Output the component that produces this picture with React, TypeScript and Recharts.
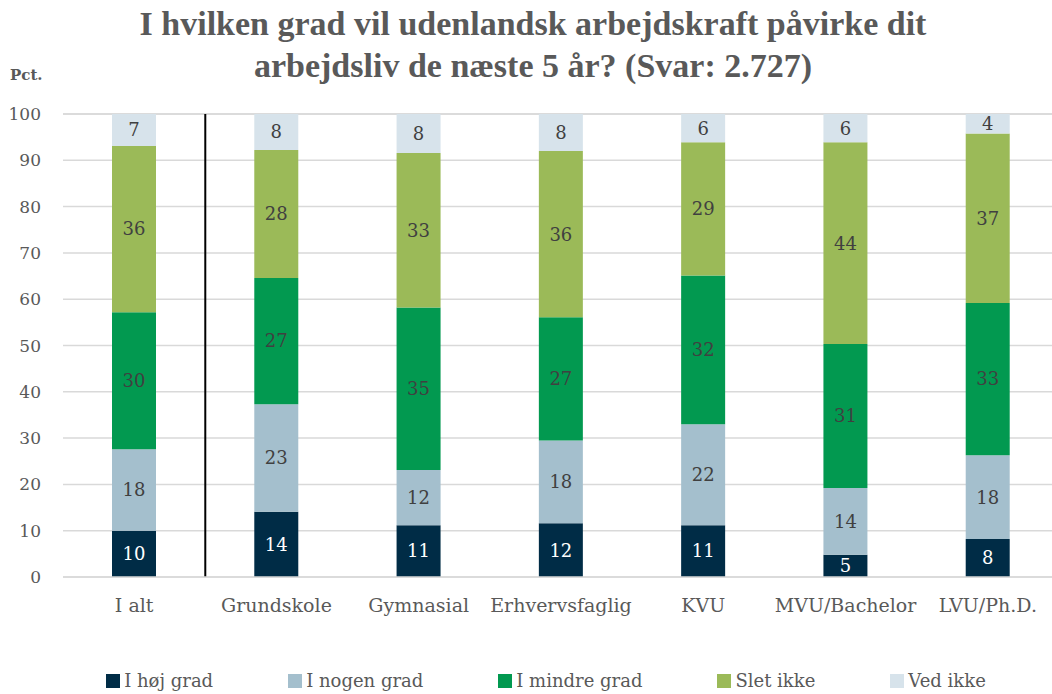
import React from "react";
import {
  BarChart,
  Bar,
  XAxis,
  YAxis,
  CartesianGrid,
  ReferenceLine,
  LabelList,
} from "recharts";

// Survey answers by education level (pct.)
const CATEGORIES = [
  "I alt",
  "Grundskole",
  "Gymnasial",
  "Erhvervsfaglig",
  "KVU",
  "MVU/Bachelor",
  "LVU/Ph.D.",
];

const HOEJ_GRAD = [10.0, 14.1, 11.2, 11.6, 11.2, 4.8, 8.2];
const NOGEN_GRAD = [17.6, 23.2, 11.9, 17.9, 21.8, 14.4, 18.1];
const MINDRE_GRAD = [29.6, 27.3, 35.1, 26.6, 32.1, 31.1, 32.9];
const SLET_IKKE = [35.9, 27.6, 33.4, 35.9, 28.8, 43.6, 36.6];
const VED_IKKE = [6.9, 7.8, 8.4, 8.0, 6.1, 6.1, 4.2];

const Y_TICKS = [0, 10, 20, 30, 40, 50, 60, 70, 80, 90, 100];

const SERIES = [
  { key: "hoej", name: "I høj grad", values: HOEJ_GRAD, color: "#002c46", label: "#ffffff" },
  { key: "nogen", name: "I nogen grad", values: NOGEN_GRAD, color: "#a4bfcd", label: "#404040" },
  { key: "mindre", name: "I mindre grad", values: MINDRE_GRAD, color: "#029950", label: "#404040" },
  { key: "slet", name: "Slet ikke", values: SLET_IKKE, color: "#9bba58", label: "#404040" },
  { key: "ved", name: "Ved ikke", values: VED_IKKE, color: "#d7e3eb", label: "#404040" },
];

const data = CATEGORIES.map((cat, i) => {
  const row: Record<string, string | number> = { name: cat };
  SERIES.forEach((s) => {
    row[s.key] = s.values[i];
  });
  return row;
});

const SERIF = "'DejaVu Serif', serif";
const TEXT_GRAY = "#595959";

export default function App() {
  return (
    <div
      style={{
        position: "absolute",
        left: 0,
        top: 0,
        width: 1052,
        height: 694,
        overflow: "hidden",
        background: "#fff",
      }}
    >
      {/* Title */}
      <div
        style={{
          position: "absolute",
          left: 0,
          width: 1066,
          top: 3,
          textAlign: "center",
          fontFamily: "'Liberation Serif', serif",
          fontWeight: "bold",
          fontSize: 34,
          lineHeight: "42px",
          color: TEXT_GRAY,
        }}
      >
        I hvilken grad vil udenlandsk arbejdskraft påvirke dit
        <br />
        arbejdsliv de næste 5 år? (Svar: 2.727)
      </div>

      <div
        style={{
          position: "absolute",
          left: 10,
          top: 66,
          fontFamily: SERIF,
          fontWeight: "bold",
          fontSize: 15,
          color: TEXT_GRAY,
        }}
      >
        Pct.
      </div>

      <BarChart
        width={1059}
        height={694}
        data={data}
        margin={{ top: 114, right: 0, bottom: 0, left: 0 }}
        barSize={44}
      >
        <CartesianGrid vertical={false} stroke="#d9d9d9" strokeWidth={1.5} />
        <XAxis
          dataKey="name"
          height={117}
          tickLine={false}
          tickSize={0}
          tickMargin={22}
          axisLine={{ stroke: "#d9d9d9", strokeWidth: 1.5 }}
          tick={{ fill: TEXT_GRAY, fontSize: 19, fontFamily: SERIF }}
          interval={0}
        />
        <YAxis
          width={63}
          domain={[0, 100]}
          ticks={Y_TICKS}
          axisLine={false}
          tickLine={false}
          tickSize={0}
          tickMargin={22}
          tick={{ fill: TEXT_GRAY, fontSize: 17, fontFamily: SERIF }}
        />
        {SERIES.map((s) => (
          <Bar
            key={s.key}
            dataKey={s.key}
            name={s.name}
            stackId="a"
            fill={s.color}
            isAnimationActive={false}
          >
            <LabelList
              dataKey={s.key}
              position="center"
              formatter={(v: number) => Math.round(v)}
              style={{ fill: s.label, fontSize: 18, fontFamily: SERIF }}
            />
          </Bar>
        ))}
        <ReferenceLine x="I alt" position="end" stroke="#000" strokeWidth={2} />
      </BarChart>

      {/* Legend */}
      <div
        style={{
          position: "absolute",
          left: 0,
          width: 1092,
          top: 670,
          display: "flex",
          justifyContent: "center",
          gap: 75,
          fontFamily: SERIF,
          fontSize: 18,
          lineHeight: "21px",
          color: TEXT_GRAY,
        }}
      >
        {SERIES.map((s) => (
          <div key={s.key} style={{ display: "flex", alignItems: "center" }}>
            <div
              style={{
                width: 14,
                height: 14,
                marginRight: 4,
                backgroundColor: s.color,
              }}
            />
            <span>{s.name}</span>
          </div>
        ))}
      </div>
    </div>
  );
}
